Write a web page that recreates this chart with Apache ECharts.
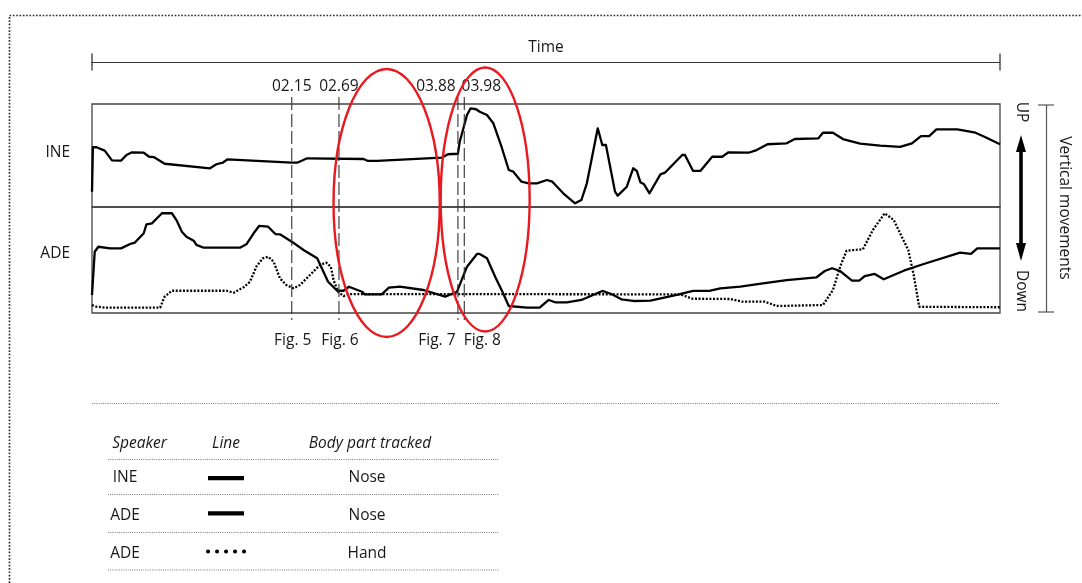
<!DOCTYPE html>
<html>
<head>
<meta charset="utf-8">
<script src="https://cdn.jsdelivr.net/npm/echarts@6/dist/echarts.min.js"></script>
<style>
  html, body { margin: 0; padding: 0; background: #fff; }
  #chart { width: 1082px; height: 583px; }
</style>
</head>
<body>
<div id="chart"></div>
<script>
// Time is expressed in percent of the clip (0–100); vertical position in percent of panel height (0 = down, 100 = up).

// INE – nose
const ineNose = [
  [0,14.9],[0.1,58.0],[0.5,58.0],[1.4,54.7],[2.2,45.3],[3.2,45.0],[3.8,50.5],[4.4,53.1],[5.7,52.7],[6.3,48.8],
  [6.8,48.5],[8.0,42.0],[13.0,37.6],[13.7,41.5],[14.4,43.0],[14.9,46.3],[22.0,43.0],[22.6,43.0],[23.7,47.3],[29.9,46.6],
  [30.4,44.7],[31.4,44.7],[38.5,47.9],[39.2,51.2],[40.3,51.7],[40.5,63.4],[41.3,89.3],[41.7,95.8],[42.3,94.9],[42.7,92.5],
  [43.5,89.3],[44.2,81.3],[45.1,58.5],[45.9,35.9],[46.4,34.3],[47.3,24.6],[48.1,23.0],[49.0,23.0],[50.1,26.2],[50.7,24.6],
  [51.9,13.3],[53.2,3.6],[53.9,6.8],[54.5,23.0],[55.7,76.4],[56.2,60.2],[56.6,60.2],[57.6,14.9],[57.9,11.0],[58.9,19.7],
  [59.6,37.6],[60.0,35.0],[60.4,24.0],[60.8,22.0],[61.4,13.3],[62.6,31.7],[63.1,33.3],[65.0,50.5],[65.3,50.5],[66.2,35.0],
  [67.0,35.0],[68.3,48.8],[69.4,48.8],[70.1,53.1],[72.3,52.7],[73.2,55.3],[74.4,60.9],[76.5,61.8],[77.4,66.0],[80.0,66.7],
  [80.5,72.1],[81.6,72.1],[82.7,66.0],[84.6,61.5],[86.8,59.5],[89.0,58.3],[90.3,61.8],[91.3,68.9],[92.2,68.9],[93.0,75.4],
  [95.3,75.4],[97.3,72.1],[98.4,67.7],[100,60.9]
];

// ADE – nose
const adeNose = [
  [0,17.0],[0.3,57.8],[0.7,62.5],[2.0,61.0],[3.2,61.0],[4.2,65.1],[4.7,66.3],[5.7,75.2],[6.0,83.7],[6.6,84.6],
  [7.7,94.1],[8.8,94.1],[9.3,87.7],[9.9,76.7],[10.4,72.0],[11.2,68.2],[11.5,64.2],[12.3,61.6],[16.3,61.6],[17.0,64.8],
  [17.8,75.2],[18.4,82.1],[19.4,81.4],[20.2,74.5],[20.7,74.2],[22.0,67.3],[23.3,59.4],[24.8,51.6],[26.0,29.5],[27.0,21.0],
  [27.7,21.0],[28.3,24.8],[29.8,19.8],[30.0,17.6],[31.9,17.6],[32.7,23.9],[33.9,24.8],[36.5,21.7],[38.9,15.4],[40.2,20.1],
  [41.3,43.7],[42.4,55.7],[42.7,55.7],[43.5,51.6],[44.4,34.2],[45.2,20.1],[45.9,6.6],[47.9,5.0],[49.3,5.0],[50.3,12.3],
  [51.0,10.1],[52.3,10.1],[53.9,12.3],[56.2,20.8],[57.2,17.9],[58.3,12.9],[59.8,11.3],[61.5,11.6],[64.4,17.0],[66.2,20.8],
  [68.1,21.0],[69.2,23.3],[71.4,24.8],[73.9,28.0],[76.5,31.1],[79.8,33.7],[80.7,39.6],[81.5,42.2],[82.4,39.6],[83.7,30.5],
  [84.5,30.5],[85.1,34.9],[86.2,36.8],[87.2,31.8],[89.4,39.9],[91.6,46.2],[95.6,56.9],[96.8,55.7],[97.5,61.0],[100,61.0]
];

// ADE – hand
const adeHand = [
  [0,7.5],[0.5,5.9],[1.6,5.0],[7.5,5.0],[8.0,15.4],[8.8,21.0],[14.8,21.0],[15.6,19.2],[16.7,24.2],[17.4,29.5],
  [18.1,43.7],[18.8,51.6],[19.4,53.1],[20.0,48.4],[20.7,32.7],[21.4,26.4],[22.2,23.3],[22.9,26.4],[24.0,35.8],[25.1,45.3],
  [25.8,47.5],[26.3,43.7],[26.6,31.1],[27.1,20.1],[27.7,16.0],[28.4,17.9],[64.8,17.6],[66.1,13.5],[70.3,13.2],[71.6,10.7],
  [74.1,10.7],[75.4,6.6],[80.5,7.5],[81.6,21.7],[82.4,43.7],[83.1,58.8],[84.9,60.1],[86.0,78.3],[87.3,94.1],[88.3,87.7],
  [89.0,75.2],[89.9,59.4],[90.5,35.8],[91.1,5.9],[100,5.4]
];

// Moments referred to in the figures
const markerPos = [22.0, 27.2, 40.3, 41.0];
const markerTimes = ['02.15', '02.69', '03.88', '03.98'];
const markerFigs = ['Fig. 5', 'Fig. 6', 'Fig. 7', 'Fig. 8'];

// Highlighted stretches (start, end)
const highlightSpans = [[26.6, 38.3], [38.4, 48.2]];

// Legend table rows
const legendSpeakers = ['INE', 'ADE', 'ADE'];
const legendParts = ['Nose', 'Nose', 'Hand'];

// ---- styling / layout ----
const FONT = "'Open Sans', 'Noto Sans', sans-serif";
const INK = '#1a1718';
const FS = 15.5;
const labelShift = [0, 0, -22, 17];      // spread crowded marker labels apart
const ellipseCy = [203, 199.5];
const ellipseRy = [134, 132];
const rowY = [478, 516, 554];

const txt = (text, x, y, extra) => ({
  type: 'text', x, y, silent: true,
  style: Object.assign({ text, fill: INK, fontFamily: FONT, fontSize: FS, align: 'center', verticalAlign: 'middle' }, extra || {})
});
const dotted = (x1, y1, x2, y2, extra) => ({
  type: 'line', silent: true,
  shape: { x1, y1, x2, y2 },
  style: Object.assign({ stroke: '#555', lineWidth: 0.8, lineDash: [1, 1.2] }, extra || {})
});

const graphics = [];
// page frame
graphics.push({ type: 'polyline', silent: true, shape: { points: [[9.5, 583], [9.5, 15.5], [1082, 15.5]] },
  style: { fill: 'none', stroke: '#333', lineWidth: 1.7, lineDash: [1.7, 1.6] } });
// panel labels
graphics.push(txt('INE', 70, 153, { align: 'right' }));
graphics.push(txt('ADE', 70, 254, { align: 'right' }));
// right-hand annotation
graphics.push({ type: 'line', silent: true, shape: { x1: 1046.5, y1: 105, x2: 1046.5, y2: 312 }, style: { stroke: '#555', lineWidth: 1.2 } });
graphics.push({ type: 'line', silent: true, shape: { x1: 1038, y1: 105, x2: 1054, y2: 105 }, style: { stroke: '#555', lineWidth: 1.2 } });
graphics.push({ type: 'line', silent: true, shape: { x1: 1038, y1: 312, x2: 1054, y2: 312 }, style: { stroke: '#555', lineWidth: 1.2 } });
graphics.push({ type: 'polygon', silent: true, shape: { points: [
  [1021, 135], [1026, 152], [1022.8, 152], [1022.8, 243], [1026, 243], [1021, 261],
  [1016, 243], [1019.2, 243], [1019.2, 152], [1016, 152]
] }, style: { fill: '#000' } });
graphics.push(Object.assign(txt('UP', 1021, 112), { rotation: -Math.PI / 2 }));
graphics.push(Object.assign(txt('Down', 1021, 291), { rotation: -Math.PI / 2 }));
graphics.push(Object.assign(txt('Vertical movements', 1064, 208), { rotation: -Math.PI / 2 }));
// legend table
graphics.push(dotted(92, 403.5, 999, 403.5));
graphics.push(txt('Speaker', 139.5, 444, { fontStyle: 'italic' }));
graphics.push(txt('Line', 226, 444, { fontStyle: 'italic' }));
graphics.push(txt('Body part tracked', 370, 444, { fontStyle: 'italic' }));
[459.5, 494.5, 532.5, 570].forEach(y => graphics.push(dotted(108, y, 499, y)));
legendSpeakers.forEach((s, i) => graphics.push(txt(s, 125, rowY[i])));
legendParts.forEach((p, i) => graphics.push(txt(p, 367, rowY[i])));
graphics.push({ type: 'rect', silent: true, shape: { x: 208, y: 476, width: 36, height: 4.3 }, style: { fill: '#000' } });
graphics.push({ type: 'rect', silent: true, shape: { x: 208, y: 511.2, width: 36, height: 4.3 }, style: { fill: '#000' } });
graphics.push({ type: 'line', silent: true, shape: { x1: 208, y1: 551.5, x2: 245, y2: 551.5 },
  style: { stroke: '#000', lineWidth: 4, lineCap: 'round', lineDash: [0.1, 8.9] } });

const hiddenAxis = (gridIndex, max) => ({ gridIndex, type: 'value', min: 0, max, show: false });
const panelGrid = (top, height) => ({
  left: 92, right: 82, top, height, show: true,
  borderColor: '#444', borderWidth: 1.3, backgroundColor: 'transparent'
});

const option = {
  animation: false,
  backgroundColor: '#fff',
  grid: [
    panelGrid(104, 103),
    panelGrid(207, 106),
    { left: 92, right: 82, top: 97, height: 223, show: false }
  ],
  xAxis: [
    {
      gridIndex: 0, type: 'value', min: 0, max: 100, position: 'top', offset: 42,
      axisLine: { show: true, onZero: false, symbol: ['rect', 'rect'], symbolSize: [17, 1.3], lineStyle: { color: '#333', width: 1.2 } },
      axisTick: { show: false }, axisLabel: { show: false }, splitLine: { show: false },
      name: 'Time', nameLocation: 'middle', nameGap: 6,
      nameTextStyle: { color: INK, fontFamily: FONT, fontSize: FS }
    },
    hiddenAxis(1, 100),
    hiddenAxis(2, 100)
  ],
  yAxis: [hiddenAxis(0, 100), hiddenAxis(1, 100), hiddenAxis(2, 1)],
  series: [
    {
      name: 'INE nose', type: 'line', xAxisIndex: 0, yAxisIndex: 0, data: ineNose,
      symbol: 'none', lineStyle: { color: '#000', width: 2.3, join: 'round' }, z: 3
    },
    {
      name: 'ADE nose', type: 'line', xAxisIndex: 1, yAxisIndex: 1, data: adeNose,
      symbol: 'none', lineStyle: { color: '#000', width: 2.3, join: 'round' }, z: 3
    },
    {
      name: 'ADE hand', type: 'line', xAxisIndex: 1, yAxisIndex: 1, data: adeHand,
      symbol: 'none', lineStyle: { color: '#000', width: 2.3, type: [2, 1.6] }, z: 3
    },
    {
      name: 'markers', type: 'custom', xAxisIndex: 2, yAxisIndex: 2, z: 4, silent: true,
      data: markerPos.map(v => [v, 0]),
      renderItem(params, api) {
        const i = params.dataIndex;
        const x = api.coord([api.value(0), 0])[0];
        const top = params.coordSys.y;
        const bottom = top + params.coordSys.height;
        return {
          type: 'group',
          children: [
            { type: 'line', shape: { x1: x, y1: top, x2: x, y2: bottom },
              style: { stroke: '#333', lineWidth: 1.1, lineDash: [13, 4] } },
            { type: 'text', x: x + labelShift[i], y: top - 10.5,
              style: { text: markerTimes[i], fill: INK, fontFamily: FONT, fontSize: FS, align: 'center', verticalAlign: 'middle' } },
            { type: 'text', x: x + labelShift[i] + 1, y: bottom + 21,
              style: { text: markerFigs[i], fill: INK, fontFamily: FONT, fontSize: FS, align: 'center', verticalAlign: 'middle' } }
          ]
        };
      }
    },
    {
      name: 'highlights', type: 'custom', xAxisIndex: 2, yAxisIndex: 2, z: 5, silent: true,
      data: highlightSpans,
      renderItem(params, api) {
        const i = params.dataIndex;
        const x0 = api.coord([api.value(0), 0])[0];
        const x1 = api.coord([api.value(1), 0])[0];
        return {
          type: 'ellipse',
          shape: { cx: (x0 + x1) / 2, cy: ellipseCy[i], rx: (x1 - x0) / 2, ry: ellipseRy[i] },
          style: { fill: 'none', stroke: '#e8191f', lineWidth: 2.4 }
        };
      }
    }
  ],
  graphic: graphics
};

const chart = echarts.init(document.getElementById('chart'));
chart.setOption(option);
</script>
</body>
</html>
